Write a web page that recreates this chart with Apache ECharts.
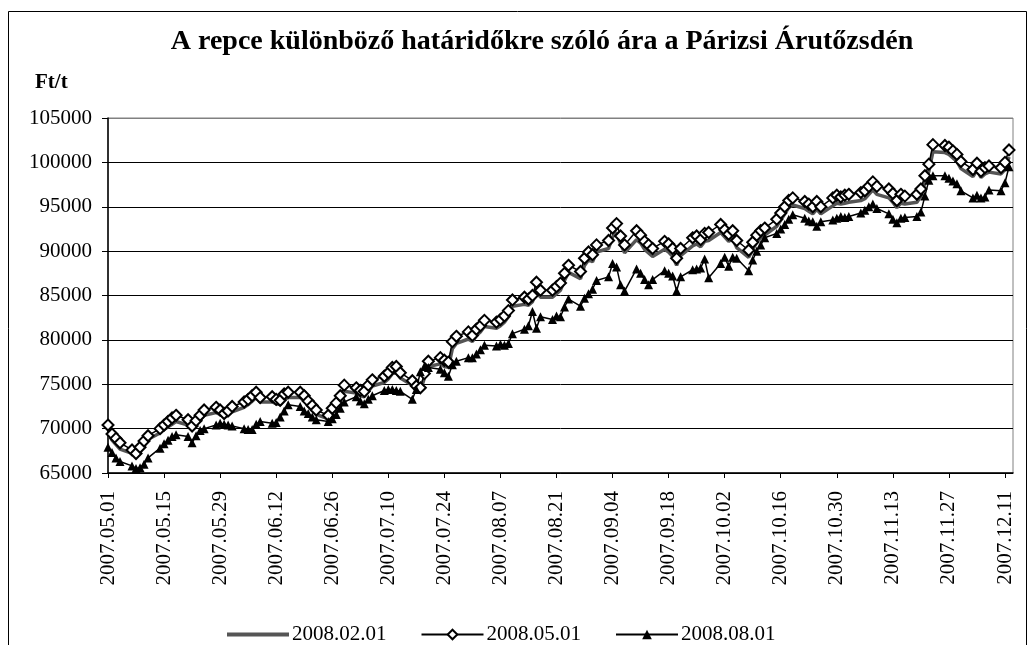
<!DOCTYPE html>
<html>
<head>
<meta charset="utf-8">
<script src="https://cdn.jsdelivr.net/npm/echarts@6/dist/echarts.min.js"></script>
<style>
  html, body { margin: 0; padding: 0; background: #fff; }
  #chart { width: 1035px; height: 645px; }
</style>
</head>
<body>
<div id="chart"></div>
<script>
// ─── Data (trading days, 2007.05.01 – 2007.12.12) ───────────────────────────

const firstDay = [2007, 4, 1];   // 2007.05.01
const dayCount = 227;            // axis runs to 2007.12.13

const seriesNames = ['2008.02.01', '2008.05.01', '2008.08.01'];

// 2008.02.01 contract, Ft/t
const feb08 = [
  69600, 68700, 68200, 67700,
  67200, 66900, 67400, 68100, 68800,
  69500, 69900, 70200, 70500, 70800,
  70400, 69900, 70400, 71000, 71500,
  71800, 71600, 71300, 71500, 71900,
  72400, 72700, 73100, 73500, 73000,
  73000, 72800, 72700, 73300, 73500,
  73500, 73100, 72600, 72100, 71600,
  71100, 71800, 72400, 73100, 74200,
  74000, 73700, 73600, 74200, 74800,
  75200, 75600, 76200, 76300, 75700,
  74900, 74300, 74200, 75700, 77000,
  77300, 77000, 76900, 79000, 79600,
  80100, 79800, 80500, 80900, 81500,
  81300, 81600, 82000, 82600, 83800,
  84000, 83900, 84300, 85700, 84800,
  84800, 85200, 85600, 86700, 87600,
  86900, 88400, 89000, 88800, 89900,
  90300, 91600, 92100, 90800, 89800,
  91300, 90900, 90200, 89800, 89400,
  90200, 89900, 89400, 88400, 89500,
  90600, 90800, 90500, 91100, 91200,
  92100, 91600, 91100, 91400, 90400,
  89300, 90200, 91000, 91500, 91800,
  92800, 93500, 94200, 94900, 95200,
  94800, 94500, 94200, 94700, 94200,
  95100, 95400, 95300, 95400, 95500,
  95700, 95900, 96400, 96900, 96400,
  96000, 95500, 94900, 95400, 95300,
  95500, 96200, 97700, 99000, 101200,
  101100, 100900, 100500, 100100, 99300,
  98400, 99100, 98300, 98700, 98900,
  98700, 99200, 100600
];

// 2008.05.01 contract, Ft/t
const may08 = [
  70400, 69400, 68900, 68400,
  67600, 67200, 67900, 68600, 69200,
  70000, 70400, 70800, 71200, 71500,
  71000, 70300, 70900, 71500, 72100,
  72400, 72100, 71700, 72000, 72500,
  73000, 73300, 73700, 74100, 73500,
  73600, 73300, 73200, 73900, 74100,
  74100, 73700, 73100, 72600, 72100,
  71500, 72300, 72900, 73700, 74900,
  74600, 74300, 74200, 74900, 75500,
  75900, 76300, 76900, 77000, 76300,
  75400, 74800, 74600, 76200, 77600,
  78000, 77700, 77500, 79800, 80400,
  80900, 80500, 81200, 81600, 82200,
  82000, 82300, 82700, 83300, 84500,
  84800, 84600, 85000, 86500, 85600,
  85600, 86000, 86400, 87500, 88400,
  87700, 89200, 89900, 89600, 90700,
  91200, 92600, 93100, 91700, 90700,
  92300, 91800, 91100, 90700, 90300,
  91100, 90800, 90300, 89200, 90300,
  91500, 91700, 91300, 92000, 92100,
  93000, 92400, 91900, 92300, 91200,
  90100, 91000, 91800, 92300, 92600,
  93600, 94300, 95000, 95700, 96000,
  95600, 95300, 95000, 95600, 95000,
  96000, 96300, 96100, 96300, 96400,
  96600, 96800, 97300, 97800, 97300,
  97000, 96500, 95700, 96400, 96200,
  96400, 97000, 98500, 99800, 102000,
  101900, 101700, 101300, 100900, 100100,
  99200, 99900, 99000, 99400, 99600,
  99400, 100000, 101400
];

// 2008.08.01 contract, Ft/t
const aug08 = [
  67900, 67300, 66700, 66300,
  65800, 65500, 65600, 66000, 66700,
  67800, 68300, 68700, 69100, 69300,
  69100, 68400, 69200, 69800, 70000,
  70400, 70600, 70500, 70400, 70300,
  70000, 69900, 69900, 70500, 70800,
  70600, 70700, 71300, 72000, 72700,
  72500, 72000, 71700, 71300, 71000,
  70800, 71100, 71600, 72300, 73000,
  73600, 73100, 72800, 73300, 73700,
  74300, 74400, 74400, 74300, 74200,
  73300, 74400, 76400, 77000, 76900,
  76700, 76300, 75900, 77200, 77600,
  78000, 78000, 78400, 78900, 79400,
  79300, 79500, 79400, 79600, 80700,
  81200, 81600, 83200, 81300, 82600,
  82300, 82700, 82600, 83700, 84600,
  83800, 84700, 85200, 85700, 86700,
  87100, 88600, 88200, 86200, 85500,
  88000, 87500, 86800, 86200, 86800,
  87800, 87500, 87200, 85500, 87100,
  87900, 88000, 88100, 89100, 87000,
  88600, 89300, 88300, 89300, 89200,
  87800, 89000, 90000, 90700, 91500,
  92000, 92500, 93000, 93600, 94100,
  93700, 93400, 93300, 92800, 93300,
  93500, 93700, 93900, 93800, 93900,
  94300, 94600, 95000, 95300, 94800,
  94200, 93600, 93200, 93700, 93800,
  93900, 94400, 96200, 98000, 98500,
  98500, 98200, 97900, 97600, 96800,
  96000, 96300, 96000, 96100, 96900,
  96800, 97700, 99500
];

const yTicks = { min: 65000, max: 105000, step: 5000 };
const labelEvery = 14; // days between date labels

// ─── Calendar axis: every day, weekends left empty ──────────────────────────

const pad = (n) => String(n).padStart(2, '0');
const days = [];
const weekday = [];
for (let i = 0; i < dayCount; i++) {
  const d = new Date(firstDay[0], firstDay[1], firstDay[2] + i);
  days.push(`${d.getFullYear()}.${pad(d.getMonth() + 1)}.${pad(d.getDate())}`);
  weekday.push(d.getDay() !== 0 && d.getDay() !== 6);
}

function spread(values) {
  const out = [];
  let k = 0;
  for (let i = 0; i < dayCount; i++) {
    out.push(weekday[i] && k < values.length ? values[k++] : null);
  }
  return out;
}

// ─── Chart ──────────────────────────────────────────────────────────────────

const FONT = '"Liberation Serif", "Times New Roman", serif';
const chart = echarts.init(document.getElementById('chart'), null, { renderer: 'canvas' });

chart.setOption({
  animation: false,
  backgroundColor: '#fff',
  textStyle: { fontFamily: FONT, color: '#000' },
  title: {
    text: 'A repce különböző határidőkre szóló ára a Párizsi Árutőzsdén',
    left: 537,
    top: 23,
    textAlign: 'center',
    textStyle: { fontFamily: FONT, fontSize: 28, fontWeight: 'bold', color: '#000' },
  },
  graphic: [
    {
      type: 'rect',
      shape: { x: 8.5, y: 11.5, width: 1018, height: 660 },
      style: { fill: 'none', stroke: '#000', lineWidth: 1 },
      silent: true,
    },
    {
      type: 'text',
      left: 35,
      top: 72,
      style: { text: 'Ft/t', font: 'bold 21px ' + FONT, fill: '#000' },
    },
  ],
  legend: {
    top: 619,
    left: 220,
    itemWidth: 62,
    itemHeight: 12,
    itemGap: 34,
    textStyle: { fontFamily: FONT, fontSize: 21, color: '#000', padding: [0, 0, 0, -2] },
    data: [
      { name: seriesNames[0], itemStyle: { opacity: 0 }, lineStyle: { color: '#555', width: 4 } },
      { name: seriesNames[1] },
      { name: seriesNames[2] },
    ],
  },
  grid: { left: 108, right: 22, top: 118, bottom: 172, show: true, borderColor: '#808080', borderWidth: 1 },
  xAxis: {
    type: 'category',
    data: days,
    boundaryGap: false,
    axisLine: { lineStyle: { color: '#000', width: 1.5 } },
    axisTick: { inside: false, length: 5, interval: labelEvery - 1, lineStyle: { color: '#000' } },
    axisLabel: {
      interval: labelEvery - 1,
      rotate: 90,
      margin: 18,
      fontFamily: FONT,
      fontSize: 21,
      color: '#000',
    },
    splitLine: { show: false },
  },
  yAxis: {
    type: 'value',
    min: yTicks.min,
    max: yTicks.max,
    interval: yTicks.step,
    axisLine: { show: true, lineStyle: { color: '#000', width: 1.5 } },
    axisTick: { show: true, length: 6, lineStyle: { color: '#000' } },
    axisLabel: { margin: 16, fontFamily: FONT, fontSize: 21, color: '#000', formatter: (v) => String(v) },
    splitLine: {
      lineStyle: {
        color: ['#000', '#000', '#000', '#000', '#000', '#000', '#000', '#000', '#808080'],
        width: 1,
      },
    },
  },
  series: [
    {
      name: seriesNames[0],
      type: 'line',
      data: spread(feb08),
      connectNulls: true,
      symbol: 'none',
      lineStyle: { color: '#555', width: 3.5 },
      itemStyle: { color: '#555' },
    },
    {
      name: seriesNames[1],
      type: 'line',
      data: spread(may08),
      connectNulls: true,
      symbol: 'diamond',
      symbolSize: 11,
      showAllSymbol: true,
      lineStyle: { color: '#000', width: 1.5 },
      itemStyle: { color: '#fff', borderColor: '#000', borderWidth: 2 },
    },
    {
      name: seriesNames[2],
      type: 'line',
      data: spread(aug08),
      connectNulls: true,
      symbol: 'triangle',
      symbolSize: 9,
      showAllSymbol: true,
      lineStyle: { color: '#000', width: 1.5 },
      itemStyle: { color: '#000' },
    },
  ],
});
</script>
</body>
</html>
